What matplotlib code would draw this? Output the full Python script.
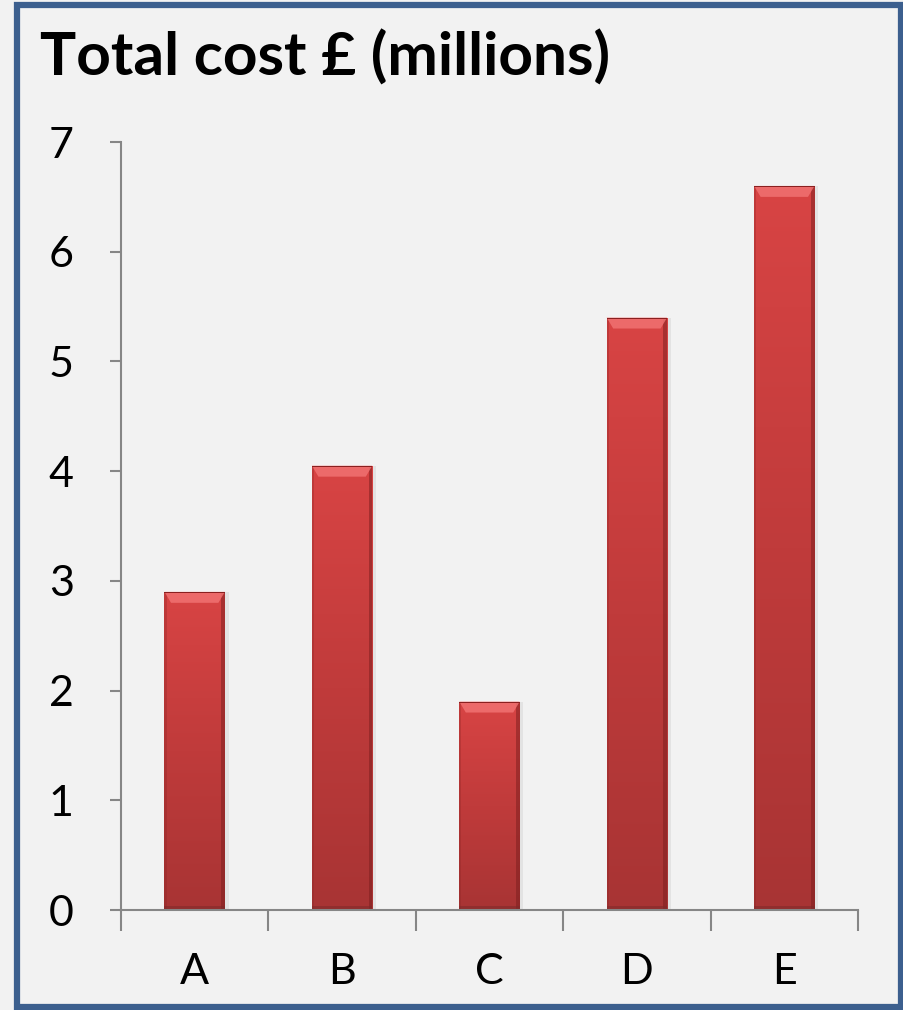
import numpy as np
import matplotlib
matplotlib.use("Agg")
import matplotlib.pyplot as plt
from matplotlib.patches import Rectangle, Polygon
from matplotlib.colors import LinearSegmentedColormap

categories = ["A", "B", "C", "D", "E"]
values = [2.9, 4.05, 1.9, 5.4, 6.6]
yticks = [0, 1, 2, 3, 4, 5, 6, 7]
title = "Total cost £ (millions)"

plt.rcParams['font.family'] = ['Lato', 'DejaVu Sans']

fig = plt.figure(figsize=(9.04, 10.10), dpi=100)
fig.patch.set_facecolor("#F2F2F2")
ax = fig.add_axes([121/904, 1-910/1010, (858-121)/904, (910-142)/1010])
ax.set_facecolor("#F2F2F2")

x = np.arange(len(categories))
width = 0.41
bars = ax.bar(x, values, width=width, color="#C83A3A", edgecolor="none", zorder=2)

# gradient fill + bevel for each bar
cmap = LinearSegmentedColormap.from_list("redbar", ["#A83434", "#C03B3B", "#D84444"])
grad = np.linspace(0, 1, 256).reshape(-1, 1)
for b in bars:
    x0, w, h = b.get_x(), b.get_width(), b.get_height()
    # soft shadow right
    ax.add_patch(Rectangle((x0 + w, 0), 0.025, h, color="#000000", alpha=0.06, lw=0, zorder=1))
    im = ax.imshow(grad, cmap=cmap, extent=[x0, x0 + w, 0, h], origin="lower",
                   aspect="auto", zorder=2.1)
    im.set_clip_path(b)
    # darker side edges
    edge = w * 0.06
    ax.add_patch(Rectangle((x0 + w - edge, 0), edge, h, color="#7A1E1E", alpha=0.5, lw=0, zorder=2.2))
    ax.add_patch(Rectangle((x0, 0), edge * 0.6, h, color="#8A2424", alpha=0.3, lw=0, zorder=2.2))
    # bevel top
    bh = 0.1
    ax.add_patch(Polygon([(x0, h), (x0 + w, h), (x0 + w - edge * 1.8, h - bh), (x0 + edge * 1.8, h - bh)],
                         closed=True, color="#F27575", alpha=0.8, lw=0, zorder=2.3))
    ax.add_patch(Rectangle((x0, h - 0.012), w, 0.012, color="#8A2020", lw=0, zorder=2.4))
    ax.add_patch(Rectangle((x0, 0), w, 0.04, color="#7A2A2A", alpha=0.5, lw=0, zorder=2.3))

ax.set_xlim(-0.5, len(categories) - 0.5)
ax.set_ylim(0, 7)
ax.set_yticks(yticks)
ax.set_yticklabels([str(t) for t in yticks])
ax.set_xticks(x)
ax.set_xticklabels(categories)
ax.set_xticks(np.arange(len(categories) + 1) - 0.5, minor=True)

for s in ["top", "right"]:
    ax.spines[s].set_visible(False)
for s in ["left", "bottom"]:
    ax.spines[s].set_color("#868686")
    ax.spines[s].set_linewidth(1.5)

ax.tick_params(axis="y", length=8, width=1.5, color="#868686", labelsize=31, pad=26)
ax.tick_params(axis="x", which="major", length=0, labelsize=31, pad=31)
ax.tick_params(axis="x", which="minor", length=15, width=1.5, color="#868686")

fig.text(40/904, 1-76/1010, title, fontsize=43.5, fontweight="bold", va="baseline", ha="left")

# outer border
fig.patches.append(Rectangle((17/904, 3/1010), (901-17)/904, (1005-3)/1010, transform=fig.transFigure,
                             fill=False, edgecolor="#3C5F8E", linewidth=4.5))

fig.savefig("out.png", dpi=100, facecolor=fig.get_facecolor())
